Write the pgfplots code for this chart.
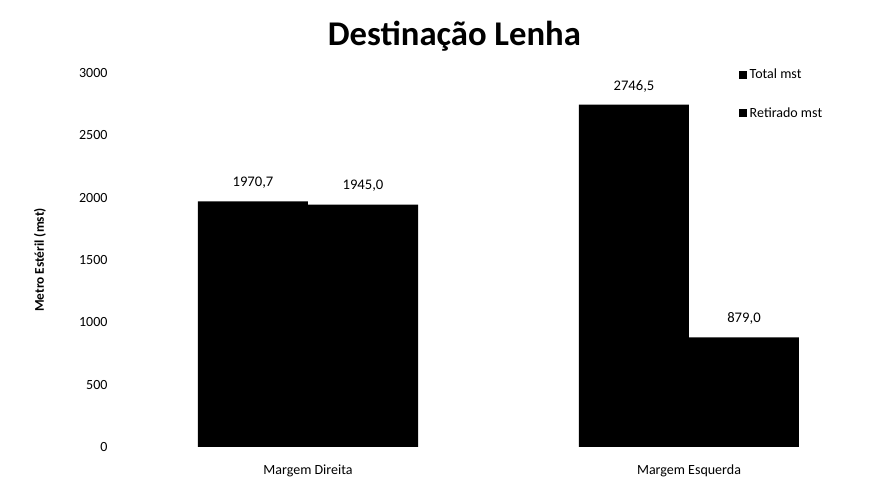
\documentclass[border=0pt]{standalone}
\usepackage{pgfplots}
\pgfplotsset{compat=1.18}
\usepackage{fontspec}
\setmainfont{Carlito}
\begin{document}
\begin{tikzpicture}
\useasboundingbox (-88.125pt,-39pt) rectangle (567.375pt,335.25pt);
\begin{axis}[
  scale only axis,
  width=567.375pt, height=280.5pt,
  anchor=south west, at={(0,0)},
  ybar=0pt, bar width=82.5pt,
  xmin=-0.5, xmax=1.4856,
  ymin=0, ymax=3000,
  xtick={0,1}, xticklabels={Margem Direita, Margem Esquerda},
  ytick={0,500,1000,1500,2000,2500,3000},
  axis line style={draw=none},
  major tick length=0pt,
  tick label style={font=\fontsize{10.5}{12}\selectfont},
  yticklabel style={xshift=-4pt},
  xticklabel style={yshift=-10pt},
  /pgf/number format/assume math mode=true,
  /pgf/number format/set thousands separator={},
  ylabel={\textbf{Metro Estéril (mst)}},
  ylabel style={font=\fontsize{10}{12}\selectfont, yshift=18pt},
  title={\textbf{Destinação Lenha}},
  title style={font=\fontsize{26}{30}\selectfont, yshift=7pt, xshift=-31pt},
  nodes near coords,
  every node near coord/.append style={font=\fontsize{11}{13}\selectfont, yshift=6pt,
    /pgf/number format/.cd, fixed, fixed zerofill, precision=1, use comma, 1000 sep={}, assume math mode=true},
  legend style={draw=none, fill=none, at={(0.816,1.025)}, anchor=north west,
    font=\fontsize{10.5}{12}\selectfont, row sep=16pt, legend cell align=left},
  legend image code/.code={\fill[#1] (0pt,-3pt) rectangle (6pt,3pt);},
]
\addplot[fill=black, draw=none] coordinates {(0,1970.7) (1,2746.5)};
\addplot[fill=black, draw=none] coordinates {(0,1945.0) (1,879.0)};
\legend{Total mst, Retirado mst}
\end{axis}
\end{tikzpicture}
\end{document}
